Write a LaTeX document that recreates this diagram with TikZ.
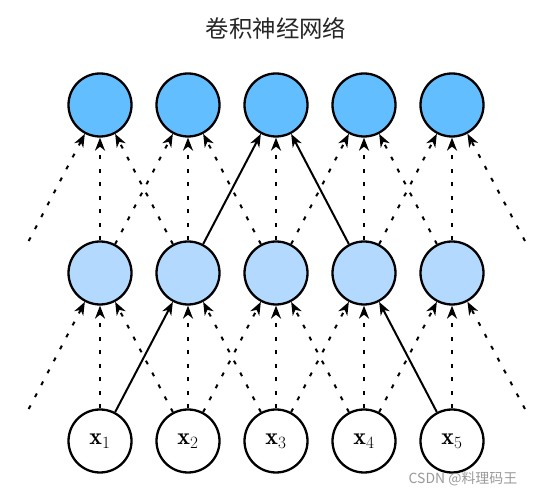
\documentclass[tikz,border=0pt]{standalone}
\usepackage{fontspec}
\newfontfamily\cjk{Noto Sans CJK SC}
\usetikzlibrary{arrows.meta}
\definecolor{outblue}{HTML}{63BEFF}
\definecolor{hidblue}{HTML}{B3D9FF}
\begin{document}
\begin{tikzpicture}[x=1bp,y=1bp,
        unit/.style={circle,draw,line width=2.3bp,minimum size=63bp,inner sep=0pt},
        conn/.style={line width=2bp,-{Stealth[length=13bp,width=10bp,inset=4bp]}},
        dots/.style={conn,dash pattern=on 4bp off 9.5bp}]
        \useasboundingbox (0,0) rectangle (537,491);

        \node[font=\cjk\fontsize{23.5}{28}\selectfont,text=black!85] (T) at (276,463) {卷积神经网络};

        \node[unit,fill=outblue] (O1) at (100,386) {};
        \node[unit,fill=outblue] (O2) at (188,386) {};
        \node[unit,fill=outblue] (O3) at (276,386) {};
        \node[unit,fill=outblue] (O4) at (364,386) {};
        \node[unit,fill=outblue] (O5) at (452,386) {};
        \node[unit,fill=hidblue] (H1) at (100,218) {};
        \node[unit,fill=hidblue] (H2) at (188,218) {};
        \node[unit,fill=hidblue] (H3) at (276,218) {};
        \node[unit,fill=hidblue] (H4) at (364,218) {};
        \node[unit,fill=hidblue] (H5) at (452,218) {};
        \node[unit,font=\fontsize{24}{28}\selectfont] (X1) at (100,50) {$\mathbf{x}_1$};
        \node[unit,font=\fontsize{24}{28}\selectfont] (X2) at (188,50) {$\mathbf{x}_2$};
        \node[unit,font=\fontsize{24}{28}\selectfont] (X3) at (276,50) {$\mathbf{x}_3$};
        \node[unit,font=\fontsize{24}{28}\selectfont] (X4) at (364,50) {$\mathbf{x}_4$};
        \node[unit,font=\fontsize{24}{28}\selectfont] (X5) at (452,50) {$\mathbf{x}_5$};

        \coordinate (L1) at (28.7,250);
        \coordinate (R1) at (525,250);
        \coordinate (L2) at (28.7,82);
        \coordinate (R2) at (525,82);

        \draw[dots] (L1) -- (O1);
        \draw[dots] (H1) -- (O1);
        \draw[dots] (H2) -- (O1);
        \draw[dots] (H1) -- (O2);
        \draw[dots] (H2) -- (O2);
        \draw[dots] (H3) -- (O2);
        \draw[conn] (H2) -- (O3);
        \draw[dots] (H3) -- (O3);
        \draw[conn] (H4) -- (O3);
        \draw[dots] (H3) -- (O4);
        \draw[dots] (H4) -- (O4);
        \draw[dots] (H5) -- (O4);
        \draw[dots] (H4) -- (O5);
        \draw[dots] (H5) -- (O5);
        \draw[dots] (R1) -- (O5);

        \draw[dots] (L2) -- (H1);
        \draw[dots] (X1) -- (H1);
        \draw[dots] (X2) -- (H1);
        \draw[conn] (X1) -- (H2);
        \draw[dots] (X2) -- (H2);
        \draw[dots] (X3) -- (H2);
        \draw[dots] (X2) -- (H3);
        \draw[dots] (X3) -- (H3);
        \draw[dots] (X4) -- (H3);
        \draw[dots] (X3) -- (H4);
        \draw[dots] (X4) -- (H4);
        \draw[conn] (X5) -- (H4);
        \draw[dots] (X4) -- (H5);
        \draw[dots] (X5) -- (H5);
        \draw[dots] (R2) -- (H5);

        \node[font=\cjk\fontsize{14}{16}\selectfont,text=black!40] (W) at (463,12) {CSDN @料理码王};
    \end{tikzpicture}
\end{document}
